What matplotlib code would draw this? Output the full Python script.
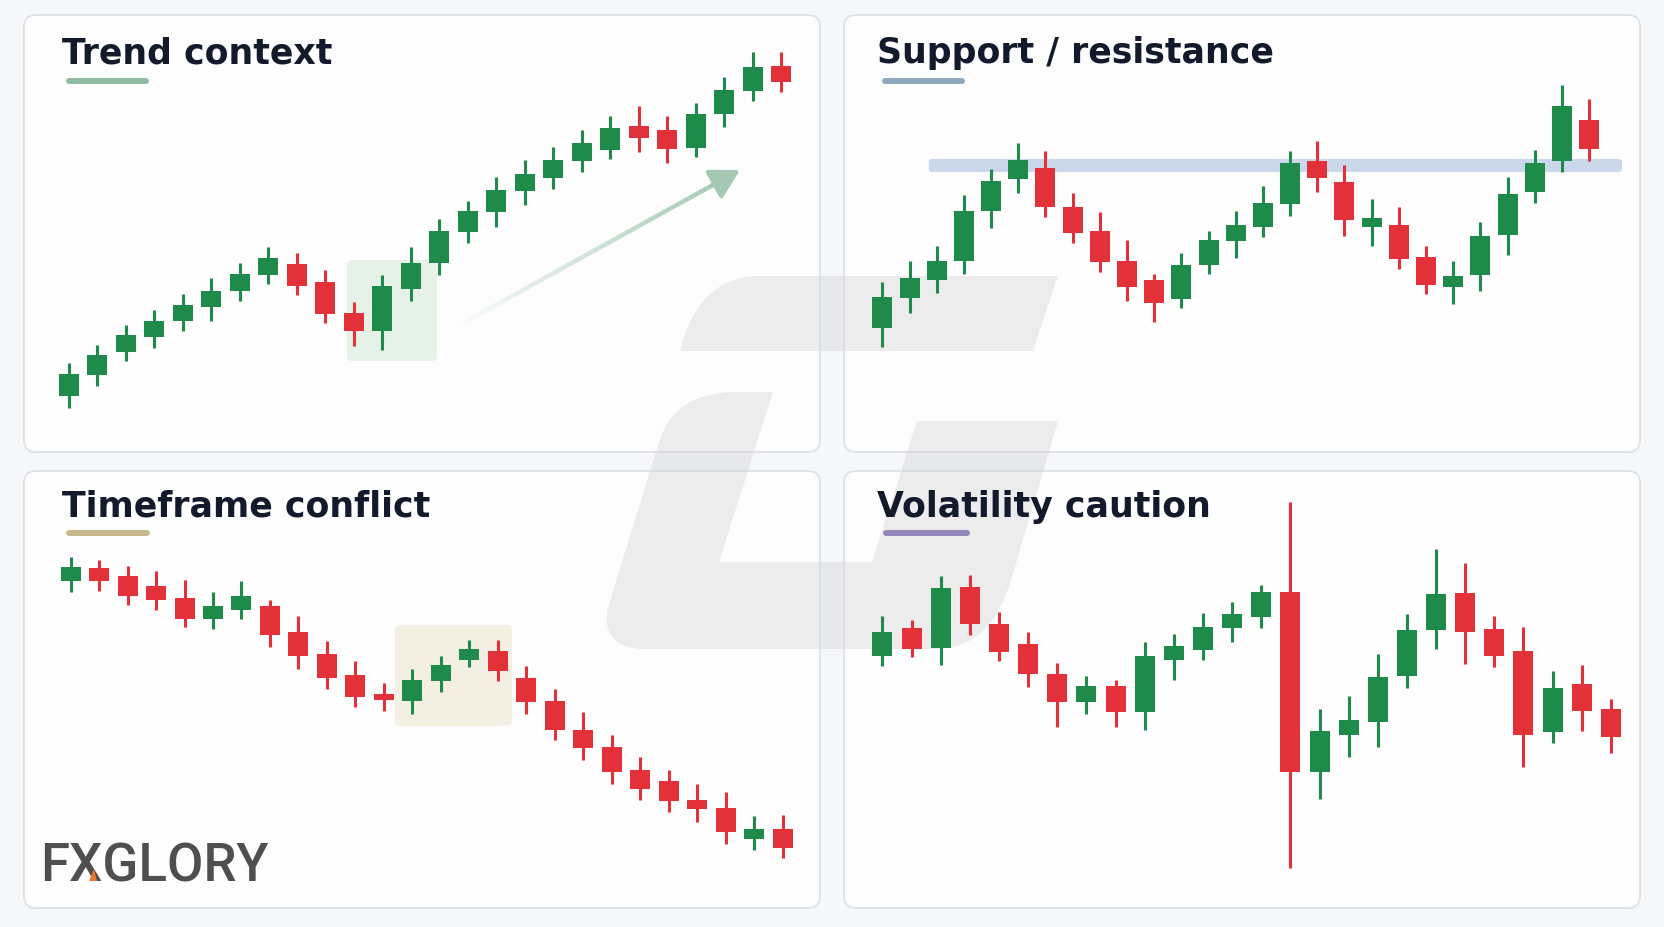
import matplotlib
matplotlib.use('Agg')
import matplotlib.pyplot as plt
import numpy as np
from matplotlib.patches import FancyBboxPatch, PathPatch, Polygon, FancyArrowPatch
from matplotlib.path import Path
from matplotlib.collections import LineCollection
from matplotlib.colors import to_rgba

W, H = 1664, 928
GREEN = '#1f8b4a'
RED = '#e3313a'
INK = '#131a2c'

# ---- data (price units) ----
trend_open = [14.1, 19.3, 25.1, 28.7, 32.7, 36.2, 40.2, 44.3, 47.0, 42.6, 34.8, 30.2, 40.8,
              47.2, 55.1, 59.9, 65.2, 68.4, 72.8, 75.6, 81.4, 80.5, 76.0, 84.5, 90.3, 96.4]
trend_high = [22.2, 26.8, 31.8, 35.6, 39.5, 43.4, 47.3, 51.2, 49.7, 45.5, 37.4, 44.3, 51.2,
              58.3, 62.7, 68.7, 73.0, 76.2, 80.5, 84.1, 86.6, 83.9, 87.3, 93.7, 100.1, 99.9]
trend_low = [10.9, 16.6, 22.7, 26.1, 30.2, 32.7, 37.8, 42.0, 39.3, 32.2, 26.4, 25.5, 37.8,
             44.3, 52.3, 56.2, 61.8, 65.8, 69.9, 73.2, 75.1, 72.2, 73.7, 81.3, 87.7, 90.1]
trend_close = [19.5, 24.3, 29.3, 32.8, 36.8, 40.3, 44.5, 48.5, 41.6, 34.5, 30.2, 41.4, 47.2,
               55.2, 60.2, 65.5, 69.5, 73.1, 77.2, 81.1, 78.6, 75.8, 84.5, 90.6, 96.2, 92.6]

sr_open = [31.0, 38.5, 43.1, 47.7, 60.3, 68.3, 70.9, 61.2, 55.2, 47.7, 43.0, 38.3, 46.8, 52.7,
           56.3, 62.0, 72.7, 67.6, 56.2, 56.8, 48.8, 41.3, 44.3, 54.3, 64.9, 72.7, 83.1]
sr_high = [42.4, 47.7, 51.6, 64.3, 70.8, 77.2, 75.2, 64.8, 59.9, 53.1, 44.5, 49.7, 55.2, 60.3,
           66.4, 75.2, 77.8, 71.8, 63.3, 61.2, 51.4, 47.7, 57.4, 68.8, 75.5, 91.8, 88.3]
sr_low = [26.2, 34.8, 39.7, 44.5, 56.0, 64.8, 58.7, 52.2, 44.9, 37.8, 32.6, 35.9, 44.5, 48.4,
          53.8, 59.1, 64.9, 53.9, 51.6, 45.8, 39.5, 37.0, 40.2, 49.3, 62.2, 70.1, 72.7]
sr_close = [38.7, 43.5, 47.7, 60.2, 67.8, 73.0, 61.2, 54.7, 47.6, 41.3, 37.2, 46.8, 53.0, 56.8,
            62.3, 72.3, 68.5, 58.0, 58.5, 48.3, 41.8, 44.1, 54.1, 64.5, 72.3, 86.4, 75.8]
resistance_low, resistance_high = 70.0, 73.25

tf_open = [81.7, 85.0, 82.9, 80.6, 77.5, 72.3, 74.6, 75.6, 69.0, 63.6, 58.2, 53.5, 51.8,
           56.8, 62.1, 64.2, 57.5, 51.7, 44.6, 40.3, 34.6, 31.7, 27.1, 25.0, 17.3, 19.8]
tf_high = [87.8, 87.1, 85.4, 84.2, 81.9, 79.0, 81.7, 77.1, 72.9, 66.7, 61.8, 56.3, 59.8,
           63.1, 67.1, 67.1, 60.4, 54.8, 48.9, 43.2, 37.8, 34.6, 31.0, 28.9, 22.9, 23.3]
tf_low = [79.0, 79.3, 75.8, 74.6, 70.2, 69.8, 72.3, 65.2, 59.8, 54.8, 50.2, 49.3, 48.5,
          54.0, 60.3, 56.7, 48.5, 42.1, 37.1, 31.0, 27.1, 23.9, 21.5, 16.1, 14.4, 12.5]
tf_close = [85.2, 81.7, 77.9, 77.1, 72.3, 75.6, 77.9, 68.2, 62.9, 57.5, 52.8, 51.9, 57.1,
            60.7, 64.8, 59.3, 51.4, 44.4, 40.0, 33.9, 29.8, 26.7, 24.8, 18.9, 19.8, 15.0]

vol_open = [63.1, 70.0, 65.0, 80.2, 71.0, 66.0, 58.6, 51.4, 55.4, 48.9, 62.1, 64.6, 70.0,
            72.8, 79.0, 34.0, 43.3, 46.5, 57.9, 69.6, 78.8, 69.8, 64.2, 44.0, 56.0, 49.8]
vol_high = [73.1, 72.1, 82.9, 83.3, 73.9, 68.9, 61.3, 58.1, 57.1, 66.5, 68.6, 73.8, 76.4,
            80.8, 101.4, 49.8, 52.9, 63.6, 73.5, 89.8, 86.3, 72.9, 70.3, 59.2, 60.7, 52.3]
vol_low = [60.4, 62.7, 60.7, 68.2, 61.7, 55.2, 45.3, 48.5, 45.3, 44.4, 56.9, 61.9, 66.5,
           70.0, 10.0, 27.3, 37.8, 40.2, 55.0, 64.8, 61.0, 60.3, 35.3, 41.3, 44.2, 38.8]
vol_close = [69.0, 64.8, 80.0, 71.0, 63.9, 58.6, 51.4, 55.4, 48.9, 63.1, 65.4, 70.2, 73.5,
             79.0, 34.0, 44.2, 47.1, 57.7, 69.4, 78.6, 69.0, 63.1, 43.3, 55.0, 49.3, 42.7]

titles = ['Trend context', 'Support / resistance', 'Timeframe conflict', 'Volatility caution']
accents = ['#8fbca1', '#8fa7bf', '#c8b98c', '#9386ba']

# panel boxes in pixels: left, top, right, bottom
panels = [(24, 16, 820, 453), (844, 16, 1640, 453), (24, 472, 820, 909), (844, 472, 1640, 909)]
# first candle x (px) and candle spacing (px)
grid = [(69, 28.48), (882.4, 27.18), (70.6, 28.48), (882.4, 29.14)]
PX_PER_UNIT = 4.0
BODY_PX = 20

fig = plt.figure(figsize=(16.64, 9.28), dpi=100)
fig.patch.set_facecolor('#f6f7f9')

bg = fig.add_axes([0, 0, 1, 1])
bg.set_xlim(0, W)
bg.set_ylim(H, 0)
bg.axis('off')
bg.set_zorder(0)

for (x0, y0, x1, y1) in panels:
    bg.add_patch(FancyBboxPatch((x0, y0), x1 - x0, y1 - y0,
                                boxstyle='round,pad=0,rounding_size=12',
                                fc='#fdfdfe', ec='#dde2e8', lw=1.3, zorder=1))

# watermark logo
M, L, C3, CL = Path.MOVETO, Path.LINETO, Path.CURVE3, Path.CLOSEPOLY
top_bar = Path([(680, 352), (1033, 352), (1058, 277), (757, 277), (698, 279), (680, 352), (680, 352)],
               [M, L, L, L, C3, C3, CL])
g_shape = Path([(733, 393), (773, 393), (719, 563), (872, 563), (917, 422), (1058, 422),
                (1012, 578), (992, 650), (935, 650), (642, 650), (600, 648), (608, 608),
                (660, 440), (675, 395), (733, 393), (733, 393)],
               [M, L, L, L, L, L, L, C3, C3, L, C3, C3, L, C3, C3, CL])
for p in (top_bar, g_shape):
    bg.add_patch(PathPatch(p, fc='#cfcfcf', ec='none', alpha=0.36, zorder=2))

# logo
bg.text(40, 882, 'FXGLORY', fontsize=38, family='Roboto', weight='medium',
        color='#4f4f4f', va='baseline', ha='left', zorder=5)
bg.add_patch(Polygon([(89, 882), (94, 870), (97, 882)], closed=True, fc='#e8782a', ec='none', zorder=6))

title_pos = [(62, 63), (877, 63), (62, 517), (877, 517)]
accent_pos = [(69, 146, 82), (885, 962, 82), (69, 147, 534), (886, 967, 534)]
for t, (tx, ty), (ax0, ax1, ay), col in zip(titles, title_pos, accent_pos, accents):
    bg.text(tx, ty, t, fontsize=25, weight='bold', family='DejaVu Sans', color=INK,
            va='baseline', ha='left', zorder=5)
    bg.plot([ax0, ax1], [ay, ay], color=col, lw=4.3, solid_capstyle='round', zorder=5)


def make_axes(i):
    x0, y0, x1, y1 = panels[i]
    first, step = grid[i]
    ax = fig.add_axes([x0 / W, 1 - y1 / H, (x1 - x0) / W, (y1 - y0) / H])
    ax.set_zorder(1)
    ax.patch.set_visible(False)
    ax.set_xlim((x0 - first) / step, (x1 - first) / step)
    ax.set_ylim(0, (y1 - y0) / PX_PER_UNIT)
    ax.axis('off')
    return ax, step


def candles(ax, step, o, h, l, c):
    o, h, l, c = map(np.asarray, (o, h, l, c))
    x = np.arange(len(o))
    cols = np.where(c >= o, GREEN, RED)
    ax.vlines(x, l, h, colors=cols, lw=2.2, zorder=3)
    ax.bar(x, np.abs(c - o), bottom=np.minimum(o, c), width=BODY_PX / step,
           color=cols, edgecolor='none', zorder=4)


def rounded(ax, step, xa, xb, ya, yb, fc, alpha, r_px=5, z=1):
    ax.add_patch(FancyBboxPatch((xa, ya), xb - xa, yb - ya,
                                boxstyle=f'round,pad=0,rounding_size={r_px / step}',
                                mutation_aspect=step / PX_PER_UNIT,
                                fc=fc, ec='none', alpha=alpha, zorder=z))


# panel 1: trend context
ax1, s1 = make_axes(0)
rounded(ax1, s1, 9.76, 12.92, 22.75, 48.0, '#e2f1e5', 0.85)
candles(ax1, s1, trend_open, trend_high, trend_low, trend_close)
tail, head = np.array([13.59, 31.25]), np.array([23.56, 70.5])
ts = np.linspace(0, 0.95, 60)
pts = tail + (head - tail) * ts[:, None]
segs = np.stack([pts[:-1], pts[1:]], axis=1)
rgba = np.array([to_rgba('#a3c9b3', a) for a in np.linspace(0.02, 1, len(segs))])
ax1.add_collection(LineCollection(segs, colors=rgba, lw=3.2, capstyle='butt', zorder=2))
ax1.add_patch(FancyArrowPatch(tuple(tail + (head - tail) * 0.9), tuple(head),
                              arrowstyle='-|>,head_length=0.8,head_width=0.45',
                              mutation_scale=22, color='#a3c9b3', lw=3.2,
                              shrinkA=0, shrinkB=0, zorder=2))

# panel 2: support / resistance
ax2, s2 = make_axes(1)
rounded(ax2, s2, 1.71, 27.21, resistance_low, resistance_high, '#c3d1e8', 0.85, r_px=3)
candles(ax2, s2, sr_open, sr_high, sr_low, sr_close)

# panel 3: timeframe conflict
ax3, s3 = make_axes(2)
rounded(ax3, s3, 11.39, 15.5, 45.5, 70.75, '#f2efe1', 0.9)
candles(ax3, s3, tf_open, tf_high, tf_low, tf_close)

# panel 4: volatility caution
ax4, s4 = make_axes(3)
candles(ax4, s4, vol_open, vol_high, vol_low, vol_close)

fig.savefig('out.png', dpi=100, facecolor=fig.get_facecolor())
